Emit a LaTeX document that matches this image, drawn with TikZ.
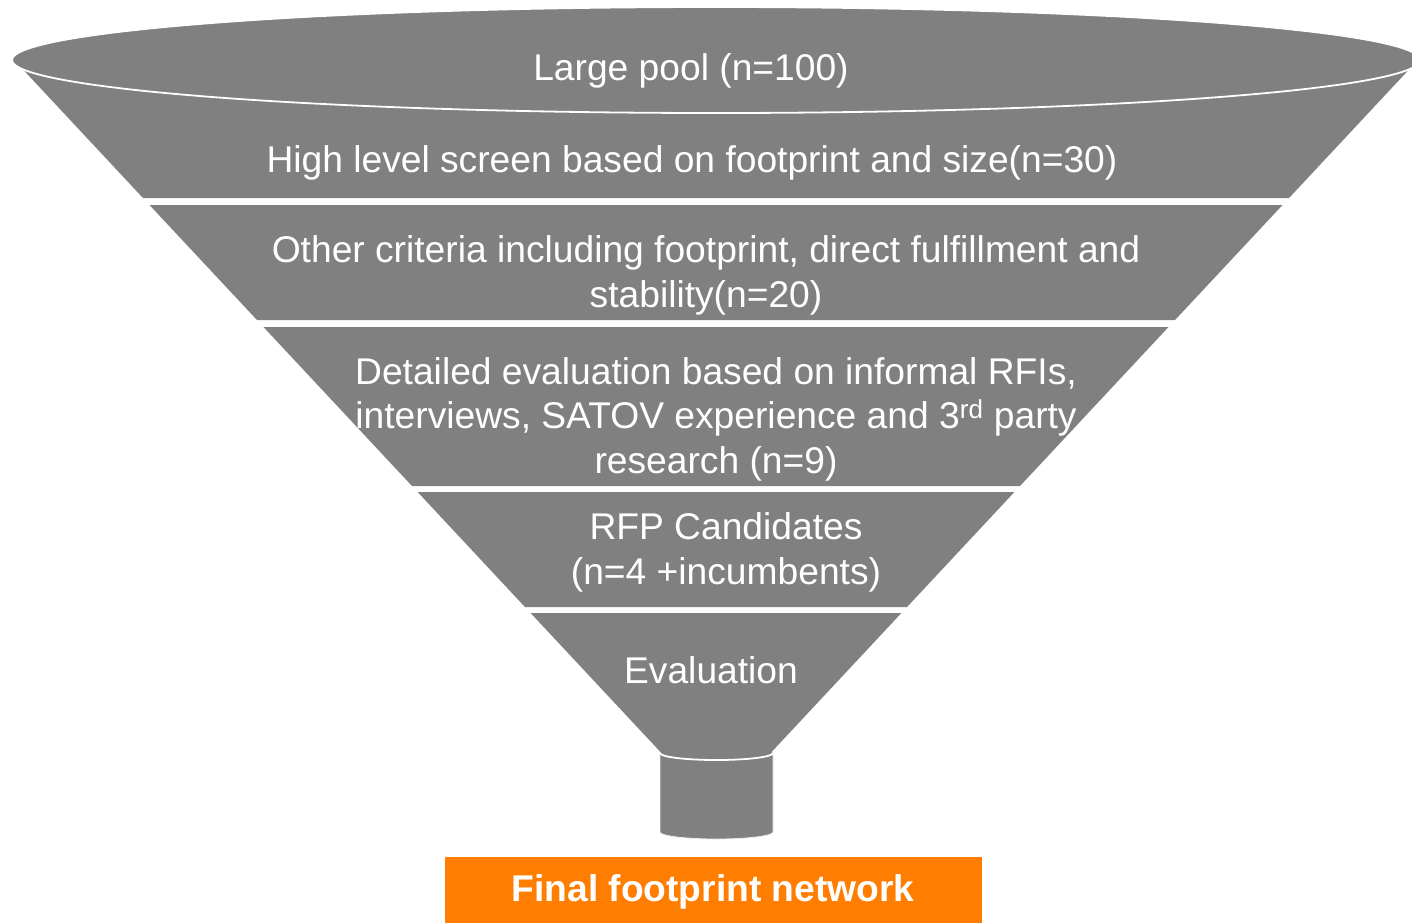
\documentclass[tikz,border=0pt]{standalone}
\usepackage{fontspec}
\setmainfont{Liberation Sans}
\definecolor{funnelgray}{RGB}{128,128,128}
\definecolor{resultorange}{RGB}{255,125,0}
\tikzset{
  band/.style={fill=funnelgray, draw=none},
  lbl/.style={text=white, anchor=base, inner sep=0pt,
    font=\fontsize{37.2}{45}\selectfont},
  result/.style={fill=resultorange, draw=none},
  resultlbl/.style={text=white, anchor=base, inner sep=0pt,
    font=\fontsize{37.2}{45}\selectfont\bfseries},
}
\begin{document}
\begin{tikzpicture}[x=1pt, y=-1pt]
  \useasboundingbox (0,0) rectangle (1412,922);
  \fill[white] (0,0) rectangle (1412,922);

  % spout body (its back rim is hidden by the funnel)
  \path[band, draw=white!85!funnelgray, line width=0.8pt]
    (660,753) -- (660,832) arc[start angle=180, end angle=360, x radius=56.5pt, y radius=7pt]
    -- (773,753) arc[start angle=0, end angle=180, x radius=56.5pt, y radius=7pt] -- cycle;

  % funnel bands, top to bottom
  \path[band] (16,62) -- (1416,62) -- (1289,198) -- (143,198) -- cycle;
  \path[band] (149.5,205) -- (1282.5,205) -- (1175,320) -- (257,320) -- cycle;
  \path[band] (263.5,327) -- (1168.5,327) -- (1020,486) -- (412,486) -- cycle;
  \path[band] (417.6,492) -- (1014.4,492) -- (907,607) -- (525,607) -- cycle;
  \path[band] (530.6,613) -- (901.4,613) -- (770.6,753) -- (661.4,753) -- cycle;

  % front rim of the spout
  \draw[white, line width=1.8pt] (660,753) arc[start angle=180, end angle=360, x radius=56.5pt, y radius=7pt];

  % rim of the funnel
  \path[band, draw=white, line width=1.8pt] (716,60) ellipse [x radius=704pt, y radius=53pt];

  % stage labels
  \node[lbl] (pool) at (691,80) {Large pool (n=100)};
  \node[lbl] (screen) at (692,172) {High level screen based on footprint and size(n=30)};
  \node[lbl] (criteriaA) at (706,262) {Other criteria including footprint, direct fulfillment and};
  \node[lbl] (criteriaB) at (706,307) {stability(n=20)};
  \node[lbl] (detailA) at (716,384) {Detailed evaluation based on informal RFIs,};
  \node[lbl] (detailB) at (716,428) {interviews, SATOV experience and 3\textsuperscript{rd} party};
  \node[lbl] (detailC) at (716,473) {research (n=9)};
  \node[lbl] (rfpA) at (726,539) {RFP Candidates};
  \node[lbl] (rfpB) at (726,584) {(n=4 +incumbents)};
  \node[lbl] (evaluation) at (711,683) {Evaluation};

  % outcome
  \path[result] (445,857) rectangle (982,925);
  \node[resultlbl] (final) at (713,901) {Final footprint network};
\end{tikzpicture}
\end{document}
